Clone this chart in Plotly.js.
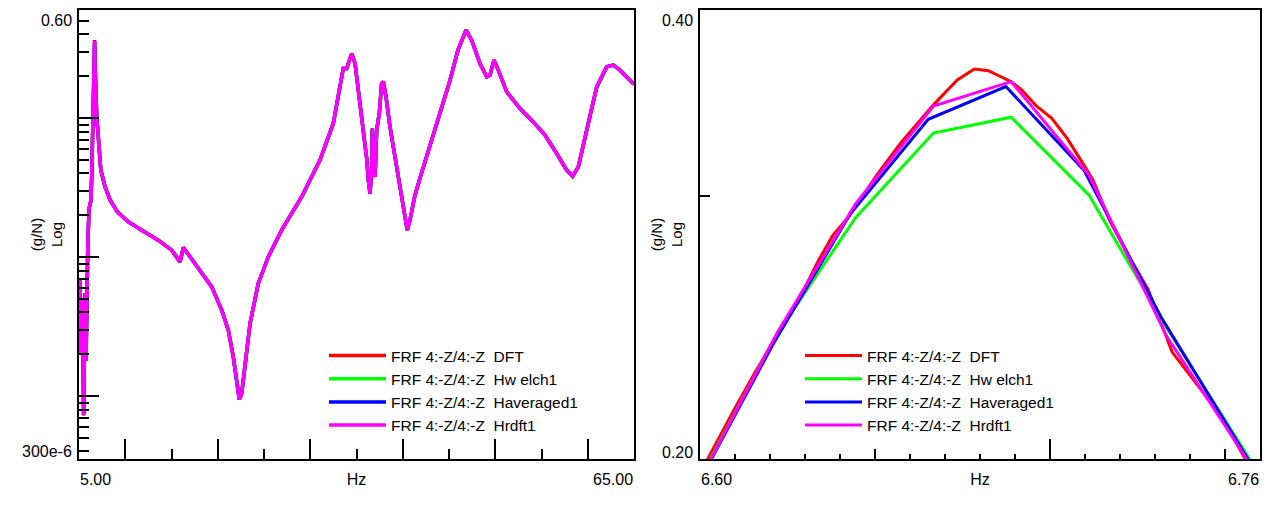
<!DOCTYPE html>
<html>
<head>
<meta charset="utf-8">
<script src="https://cdn.plot.ly/plotly-3.0.1.min.js"></script>
<style>
html,body{margin:0;padding:0;background:#ffffff;}
#chart{width:1270px;height:507px;}
</style>
</head>
<body>
<div id="chart"></div>
<script>
// ---------------- data ----------------
const seriesNames = [
  'FRF 4:-Z/4:-Z\u00a0 DFT',
  'FRF 4:-Z/4:-Z\u00a0 Hw elch1',
  'FRF 4:-Z/4:-Z\u00a0 Haveraged1',
  'FRF 4:-Z/4:-Z\u00a0 Hrdft1'
];

// Left panel: low-frequency start (common to all estimators)
const leftStartFreq = [5.12, 5.20, 5.30, 5.40, 5.50, 5.58, 5.66, 5.76, 5.86, 5.96, 6.10, 6.30, 6.40, 6.50];
const leftStartVal  = [0.0068, 0.0020, 0.0050, 0.0030, 0.00073, 0.0020, 0.0055, 0.0018, 0.0058, 0.0133, 0.0225, 0.0257, 0.045, 0.10];

// Left panel: remainder of the spectrum (common to all estimators)
const leftTailFreq = [6.85, 6.93, 7.04, 7.18, 7.36, 7.83, 8.37, 9.15, 10.33, 11.78, 13.57, 15.02, 15.92, 16.28, 17.0,
  18.26, 19.35, 20.43, 21.14, 21.68, 22.05, 22.33, 22.59, 22.95, 23.49, 24.38, 25.46, 26.91, 29.08, 31.05,
  32.49, 33.40, 33.57, 33.94, 34.30, 34.48, 34.84, 35.19, 35.56, 35.92, 36.10, 36.28, 36.46, 36.64, 36.71,
  36.82, 37.0, 37.18, 37.46, 37.72, 37.90, 38.19, 38.62, 39.16, 39.70, 40.24, 40.49, 40.78, 41.32, 41.86,
  42.95, 44.03, 45.11, 45.97, 46.84, 47.45, 48.35, 49.08, 49.43, 49.86, 50.33, 51.24, 52.68, 54.11, 55.38,
  56.64, 57.72, 58.37, 58.98, 59.89, 60.97, 62.05, 62.77, 63.49, 64.93, 65.0];
const leftTailVal = [0.135, 0.097, 0.082, 0.0589, 0.0423, 0.0319, 0.0257, 0.0212, 0.01795, 0.01564, 0.01325, 0.01122, 0.00925, 0.01175, 0.01005,
  0.00763, 0.00611, 0.00416, 0.00298, 0.00192, 0.00123, 0.000947, 0.001045, 0.00172, 0.00333, 0.00647, 0.01005, 0.01564, 0.0272, 0.0499,
  0.0916, 0.198, 0.2278, 0.2278, 0.2689, 0.2921, 0.2474, 0.159, 0.1022, 0.0695, 0.0513, 0.0358, 0.0287, 0.0423, 0.0843,
  0.0423, 0.0378, 0.082, 0.108, 0.1777, 0.1825, 0.1423, 0.0866, 0.0527, 0.0320, 0.0195, 0.01564, 0.01846, 0.0279, 0.0370,
  0.0639, 0.1087, 0.1877, 0.3085, 0.4297, 0.364, 0.2474, 0.1982, 0.2039, 0.2615, 0.2215, 0.1546, 0.1174, 0.0940, 0.0755,
  0.0557, 0.0423, 0.0383, 0.0446, 0.0820, 0.168, 0.2339, 0.2406, 0.2215, 0.1777, 0.175];

// Peak region (right panel), per estimator
const zoomFreqDFT = [6.6000, 6.6101, 6.6153, 6.6227, 6.6300, 6.6337, 6.6379, 6.6426, 6.6505, 6.6573, 6.6667, 6.6735,
  6.6784, 6.6824, 6.6866, 6.6889, 6.6919, 6.6961, 6.7005, 6.7049, 6.7097, 6.7123, 6.7170, 6.7223, 6.7280, 6.7349,
  6.7427, 6.7485, 6.7558, 6.7600];
const zoomValDFT = [0.1956, 0.2166, 0.2277, 0.2437, 0.2607, 0.2713, 0.2824, 0.2909, 0.3100, 0.3256, 0.3455, 0.3591,
  0.3652, 0.3642, 0.3605, 0.3581, 0.3536, 0.3449, 0.3384, 0.3281, 0.3148, 0.3076, 0.2892, 0.2740, 0.2600, 0.2359,
  0.2233, 0.2144, 0.2000, 0.1952];

const zoomFreqCoarse = [6.6000, 6.6222, 6.6444, 6.6667, 6.6889, 6.7111, 6.7333, 6.7556, 6.7778];
const zoomValWelch   = [0.1942, 0.2430, 0.2902, 0.3308, 0.3390, 0.3007, 0.2449, 0.2025, 0.1650];
const zoomValRdft    = [0.1937, 0.2433, 0.2964, 0.3449, 0.3581, 0.3100, 0.2418, 0.2010, 0.1650];

const zoomFreqAveraged = [6.5985, 6.6207, 6.6429, 6.6652, 6.6874, 6.7097, 6.7319, 6.7541, 6.7763];
const zoomValAveraged  = [0.1906, 0.2384, 0.2919, 0.3379, 0.3554, 0.3124, 0.2486, 0.2050, 0.1680];

// Axis ranges, ticks and tick labels
const leftXRange  = [5, 65];
const leftYRange  = [-3.452, Math.log10(0.6)];
const rightXRange = [6.60, 6.76];
const rightYRange = [Math.log10(0.2), Math.log10(0.4)];
const leftXTickText  = ['5.00', '65.00'];
const leftYTickText  = ['300e-6', '0.60'];
const rightXTickText = ['6.60', '6.76'];
const rightYTickText = ['0.20', '0.40'];
const leftXMajor  = [10, 20, 30, 40, 50, 60];
const leftXMinor  = [15, 25, 35, 45, 55];
const rightXMajor = [6.70];
const rightXMid   = [6.65, 6.75];
const rightXMinor = [6.61, 6.62, 6.63, 6.64, 6.66, 6.67, 6.68, 6.69, 6.71, 6.72, 6.73, 6.74];
const leftYDecades = [0.001, 0.01, 0.1];
const rightYTicks = [0.3];
const xTitle = 'Hz';
const yTitle = '(g/N)<br>Log';

// ---------------- styling ----------------
const colors = ['#ff0000', '#00ff00', '#0000ff', '#ff00ff'];
const FONT = 'Liberation Sans, Arial, Helvetica, sans-serif';
const W = 1270, H = 507;
const px2x = p => p / W;
const px2y = p => 1 - p / H;
const leftDomX  = [px2x(79), px2x(634)];
const rightDomX = [px2x(700), px2x(1260)];
const domY = [px2y(459), px2y(10)];

// minor log ticks for the left y axis
const leftYMinor = [];
for (let e = -4; e <= 0; e++) {
  for (let m = 2; m <= 9; m++) {
    const v = m * Math.pow(10, e);
    const lv = Math.log10(v);
    if (lv > leftYRange[0] && lv < leftYRange[1]) leftYMinor.push(v);
  }
}

const zoomF = [zoomFreqDFT, zoomFreqCoarse, zoomFreqAveraged, zoomFreqCoarse];
const zoomV = [zoomValDFT, zoomValWelch, zoomValAveraged, zoomValRdft];

const traces = [];
for (let i = 0; i < 4; i++) {
  traces.push({
    type: 'scatter', mode: 'lines', name: seriesNames[i],
    x: leftStartFreq.concat(zoomF[i], leftTailFreq),
    y: leftStartVal.concat(zoomV[i], leftTailVal),
    xaxis: 'x', yaxis: 'y', legend: 'legend',
    line: {color: colors[i], width: 3.5}
  });
}
for (let i = 0; i < 4; i++) {
  traces.push({
    type: 'scatter', mode: 'lines', name: seriesNames[i],
    x: zoomF[i], y: zoomV[i],
    xaxis: 'x2', yaxis: 'y2', legend: 'legend2',
    line: {color: colors[i], width: 3}
  });
}

const TW = 2;
const base = {
  showline: true, linecolor: '#000', linewidth: 2, mirror: true,
  showgrid: false, zeroline: false, ticks: 'inside', tickcolor: '#000', tickwidth: TW,
  showticklabels: false, fixedrange: true, tickmode: 'array'
};
function minorCfg(vals, len) {
  return {tickmode: 'array', tickvals: vals, ticks: 'inside', ticklen: len, tickcolor: '#000', tickwidth: TW, showgrid: false};
}
const labFont = {family: FONT, size: 16, color: '#000'};
function ann(o) {
  return Object.assign({showarrow: false, font: labFont, borderpad: 0}, o);
}

const annotations = [
  // left panel range labels
  ann({text: leftXTickText[0], xref: 'x', x: leftXRange[0], xanchor: 'left', yref: 'y domain', y: 0, yanchor: 'top', yshift: -11}),
  ann({text: leftXTickText[1], xref: 'x', x: leftXRange[1], xanchor: 'right', yref: 'y domain', y: 0, yanchor: 'top', yshift: -11}),
  ann({text: leftYTickText[1], xref: 'x domain', x: 0, xanchor: 'right', xshift: -6, yref: 'y', y: leftYRange[1], yanchor: 'top', yshift: -1}),
  ann({text: leftYTickText[0], xref: 'x domain', x: 0, xanchor: 'right', xshift: -6, yref: 'y', y: leftYRange[0], yanchor: 'bottom', yshift: -2}),
  // right panel range labels
  ann({text: rightXTickText[0], xref: 'x2', x: rightXRange[0], xanchor: 'left', yref: 'y2 domain', y: 0, yanchor: 'top', yshift: -11}),
  ann({text: rightXTickText[1], xref: 'x2', x: rightXRange[1], xanchor: 'right', yref: 'y2 domain', y: 0, yanchor: 'top', yshift: -11}),
  ann({text: rightYTickText[1], xref: 'x2 domain', x: 0, xanchor: 'right', xshift: -6, yref: 'y2', y: rightYRange[1], yanchor: 'top', yshift: -1}),
  ann({text: rightYTickText[0], xref: 'x2 domain', x: 0, xanchor: 'right', xshift: -6, yref: 'y2', y: rightYRange[0], yanchor: 'bottom', yshift: -3})
];

// long tick for the centre of the right x axis
const shapes = rightXMajor.map(v => ({
  type: 'line', xref: 'x2', yref: 'y2 domain', x0: v, x1: v,
  ysizemode: 'pixel', yanchor: 0, y0: 0, y1: 20,
  line: {color: '#000', width: TW}
}));

const legendBase = {
  xanchor: 'left', yanchor: 'top',
  font: {family: FONT, size: 15.5, color: '#000'}, bgcolor: 'rgba(0,0,0,0)', borderwidth: 0,
  itemwidth: 57, tracegroupgap: 0
};

const layout = {
  width: W, height: H,
  margin: {l: 0, r: 0, t: 0, b: 0},
  paper_bgcolor: '#ffffff', plot_bgcolor: '#ffffff',
  font: {family: FONT, size: 16, color: '#000'},
  showlegend: true, hovermode: false,
  annotations: annotations,
  shapes: shapes,
  xaxis: Object.assign({}, base, {
    domain: leftDomX, anchor: 'y', range: leftXRange,
    tickvals: leftXMajor, ticklen: 20, minor: minorCfg(leftXMinor, 10),
    title: {text: xTitle, font: {family: FONT, size: 16, color: '#000'}, standoff: 14}
  }),
  yaxis: Object.assign({}, base, {
    domain: domY, anchor: 'x', type: 'log', range: leftYRange,
    tickvals: leftYDecades, ticklen: 20, minor: minorCfg(leftYMinor, 10),
    title: {text: yTitle, font: {family: FONT, size: 15, color: '#000'}, standoff: 11}
  }),
  xaxis2: Object.assign({}, base, {
    domain: rightDomX, anchor: 'y2', range: rightXRange,
    tickvals: rightXMid.concat(rightXMajor), ticklen: 10, minor: minorCfg(rightXMinor, 5),
    title: {text: xTitle, font: {family: FONT, size: 16, color: '#000'}, standoff: 14}
  }),
  yaxis2: Object.assign({}, base, {
    domain: domY, anchor: 'x2', type: 'log', range: rightYRange,
    tickvals: rightYTicks, ticklen: 10,
    title: {text: yTitle, font: {family: FONT, size: 15, color: '#000'}, standoff: 12}
  }),
  legend: Object.assign({}, legendBase, {x: px2x(324), y: px2y(339)}),
  legend2: Object.assign({}, legendBase, {x: px2x(800), y: px2y(339)})
};

Plotly.newPlot('chart', traces, layout, {staticPlot: true, displayModeBar: false});
</script>
</body>
</html>
